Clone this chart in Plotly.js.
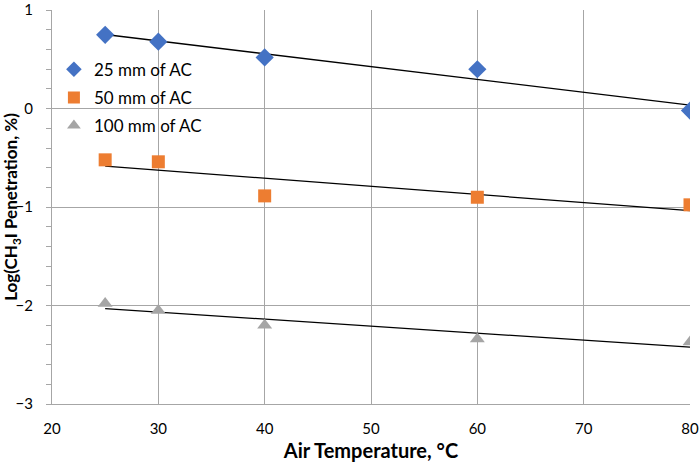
<!DOCTYPE html>
<html>
<head>
<meta charset="utf-8">
<script src="https://cdn.plot.ly/plotly-3.0.1.min.js"></script>
<style>
  html, body { margin: 0; padding: 0; background: #ffffff; }
  #chart { width: 699px; height: 463px; }
</style>
</head>
<body>
<div id="chart"></div>
<script>
// air temperature, °C
var temps = [25, 30, 40, 60, 80];

// log(CH3I penetration, %)
var ac25  = [0.75, 0.68, 0.52, 0.40, -0.02];
var ac50  = [-0.52, -0.54, -0.886, -0.90, -0.977];
var ac100 = [-1.98, -2.05, -2.20, -2.34, -2.37];

var names = ['25 mm of AC', '50 mm of AC', '100 mm of AC'];
var xTicks = [20, 30, 40, 50, 60, 70, 80];
var yTicks = [-3, -2, -1, 0, 1];

// least squares line, like the spreadsheet trendline
function linfit(xs, ys) 
{
    var n = xs.length;
    var mx = xs.reduce((a, b) => a + b, 0) / n;
    var my = ys.reduce((a, b) => a + b, 0) / n;
    var sxy = 0, sxx = 0;
    for (var i = 0; i < n; i++) {
        sxy += (xs[i] - mx) * (ys[i] - my);
        sxx += (xs[i] - mx) * (xs[i] - mx);
    }
    var slope = sxy / sxx;
    var x0 = Math.min(...xs), x1 = Math.max(...xs);
    return {x: [x0, x1], y: [my + slope * (x0 - mx), my + slope * (x1 - mx)]};
}

function trend_create(ys) 
{
    var fit = linfit(temps, ys);
    return {
        type: 'scatter', mode: 'lines',
        x: fit.x, y: fit.y,
        line: {color: '#000000', width: 1.3},
        showlegend: false, hoverinfo: 'skip',
    };
}

function points_create(ys, name, symbol, color, size) 
{
    return {
        type: 'scatter', mode: 'markers',
        x: temps, y: ys, name: name, legendgroup: name,
        marker: {symbol: symbol, color: color, size: size},
    };
}

var traces = [];
traces.push( trend_create(ac25) );
traces.push( trend_create(ac50) );
traces.push( trend_create(ac100) );
traces.push( points_create(ac25, names[0], 'diamond', '#4472C4', 14) );
traces.push( points_create(ac50, names[1], 'square', '#ED7D31', 13) );
traces.push( points_create(ac100, names[2], 'triangle-up', '#A5A5A5', 13) );

var fontFamily = 'Lato, "Open Sans", sans-serif';

var layout = {
    width: 699, height: 463,
    margin: {l: 52, r: 9, t: 10, b: 59},
    paper_bgcolor: '#ffffff',
    plot_bgcolor: '#ffffff',
    font: {family: fontFamily, size: 15, color: '#000000'},
    showlegend: true,
    legend: {
        x: 0.003, y: 0.894, xanchor: 'left', yanchor: 'top',
        bgcolor: 'rgba(0,0,0,0)',
        font: {family: fontFamily, size: 17, color: '#000000'},
        itemwidth: 30,
        itemsizing: 'constant',
        tracegroupgap: 3,
    },
    xaxis: {
        range: [20, 80],
        tickvals: xTicks,
        showgrid: true, gridcolor: '#A6A6A6', gridwidth: 1,
        showline: true, linecolor: '#A6A6A6', linewidth: 1,
        zeroline: false,
        ticks: '', ticklen: 0,
        ticklabelstandoff: 11,
        ticklabeloverflow: 'allow',
        tickfont: {family: fontFamily, size: 15},
        title: {text: '<b>Air Temperature, °C</b>', font: {family: fontFamily, size: 20}, standoff: 7},
    },
    yaxis: {
        range: [-3, 1.002],
        tickvals: yTicks,
        showgrid: true, gridcolor: '#A6A6A6', gridwidth: 1,
        showline: true, linecolor: '#A6A6A6', linewidth: 1,
        zeroline: false,
        ticks: '', ticklen: 0,
        ticklabelstandoff: 15,
        ticklabeloverflow: 'allow',
        tickfont: {family: fontFamily, size: 15},
        minor: {dtick: 0.2, ticks: 'outside', ticklen: 5, tickcolor: '#A6A6A6', showgrid: false},
        title: {text: '<b>Log(CH<sub>3</sub>I Penetration, %)</b>', font: {family: fontFamily, size: 17}, standoff: 7},
    },
};

var config = {staticPlot: true, displayModeBar: false};

Plotly.newPlot('chart', traces, layout, config);
</script>
</body>
</html>
